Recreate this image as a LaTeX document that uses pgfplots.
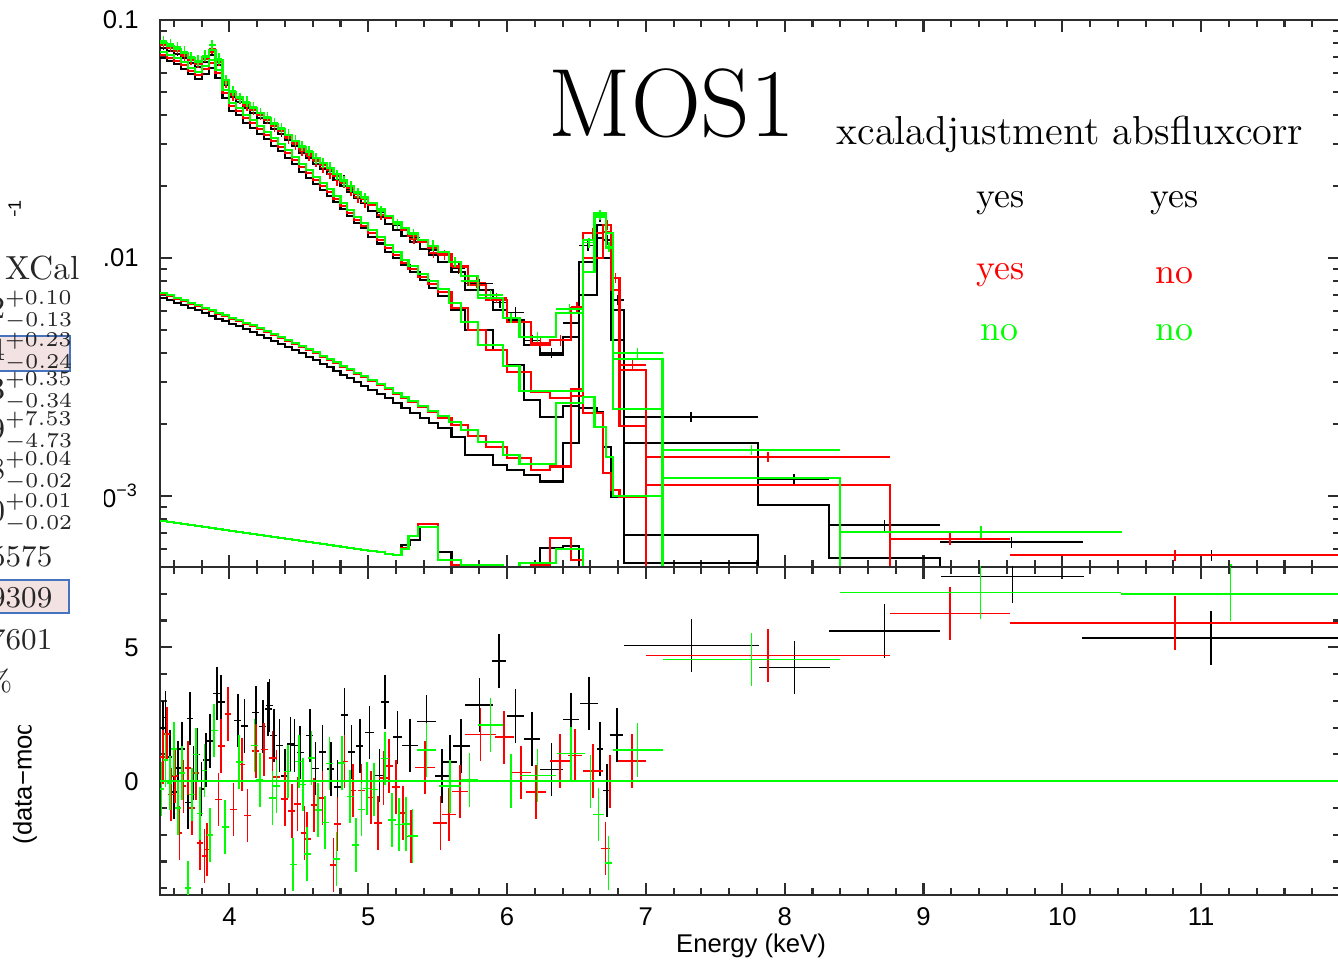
\documentclass[border=0pt]{standalone}
\usepackage{fontspec}
\usepackage{pgfplots}
\usepackage{pgfplotstable}
\pgfplotsset{compat=1.18}
\setsansfont{Liberation Sans}
\definecolor{xgreen}{RGB}{0,255,0}
\definecolor{xred}{RGB}{255,0,0}
\definecolor{framec}{RGB}{45,45,45}
\definecolor{pinkbox}{RGB}{242,226,226}
\definecolor{bluebox}{RGB}{70,115,190}

% ---------------- model tables (bin left edge, total, components) ----------------
\pgfplotstableread{
E T C2 C3 C4
3.50 0.0763 0.0692 0.00680 0.000786
3.55 0.0741 0.0673 0.00667 0.000778
3.60 0.0720 0.0653 0.00647 0.000771
3.65 0.0692 0.0623 0.00635 0.000764
3.70 0.0660 0.0593 0.00617 0.000756
3.75 0.0635 0.0565 0.00605 0.000749
3.80 0.0666 0.0593 0.00588 0.000742
3.85 0.0713 0.0629 0.00571 0.000735
3.90 0.0647 0.0571 0.00555 0.000728
3.95 0.0533 0.0470 0.00544 0.000721
4.00 0.0475 0.0415 0.00528 0.000714
4.05 0.0452 0.0399 0.00518 0.000707
4.10 0.0427 0.0369 0.00503 0.000700
4.15 0.0407 0.0352 0.00489 0.000693
4.20 0.0388 0.0332 0.00475 0.000686
4.25 0.0369 0.0316 0.00462 0.000680
4.30 0.0349 0.0296 0.00448 0.000673
4.35 0.0332 0.0282 0.00436 0.000667
4.40 0.0313 0.0263 0.00423 0.000660
4.45 0.0296 0.0248 0.00411 0.000654
4.50 0.0276 0.0230 0.00399 0.000648
4.55 0.0263 0.0217 0.00384 0.000641
4.60 0.0248 0.0205 0.00373 0.000635
4.65 0.0237 0.0193 0.00359 0.000629
4.70 0.0226 0.0182 0.00349 0.000623
4.75 0.0213 0.0172 0.00335 0.000617
4.80 0.0201 0.0161 0.00323 0.000611
4.85 0.0190 0.0150 0.00314 0.000605
4.90 0.0179 0.0140 0.00302 0.000599
4.95 0.0170 0.0134 0.00290 0.000594
5.00 0.0158 0.0123 0.00279 0.000588
5.06 0.0149 0.0115 0.00269 0.000582
5.12 0.0139 0.0106 0.00258 0.000571
5.18 0.0131 0.0100 0.00246 0.000566
5.24 0.0124 0.00935 0.00235 0.000623
5.30 0.0117 0.00874 0.00223 0.000654
5.37 0.0109 0.00809 0.00213 0.000742
5.44 0.0103 0.00748 0.00203 0.000742
5.50 0.00962 0.00693 0.00193 0.000583
5.60 0.00874 0.00605 0.00177 0.000514
5.70 0.00734 0.00499 0.00149 0.000514
5.90 0.00605 0.00411 0.00135 0.000490
6.00 0.00549 0.00356 0.00129 0.000466
6.12 0.00431 0.00253 0.00123 0.000490
6.24 0.00392 0.00215 0.00115 0.000606
6.40 0.00466 0.00239 0.00167 0.000617
6.52 0.00962 0.00700 0.00235 0.00001
6.65 0.0138 0.0121 0.00226 0.00001
6.69 0.0119 0.0100 0.00161 0.00001
6.75 0.00605 0.00453 0.000991 0.00001
6.84 0.00167 0.000686 0.000524 0.00001
7.81 0.000917 0.00001 0.00001 0.00001
8.32 0.000550 0.00001 0.00001 0.00001
9.12 0.00001 0.00001 0.00001 0.00001
}\blackmod

\pgfplotstableread{
E T C2 C3 C4
3.50 0.0785 0.0712 0.00706 0.000786
3.55 0.0762 0.0692 0.00693 0.000778
3.60 0.0740 0.0671 0.00673 0.000771
3.65 0.0712 0.0646 0.00660 0.000764
3.70 0.0678 0.0610 0.00641 0.000756
3.75 0.0653 0.0587 0.00629 0.000749
3.80 0.0685 0.0622 0.00611 0.000742
3.85 0.0733 0.0659 0.00599 0.000735
3.90 0.0665 0.0598 0.00582 0.000728
3.95 0.0549 0.0493 0.00570 0.000721
4.00 0.0488 0.0435 0.00554 0.000714
4.05 0.0466 0.0414 0.00544 0.000707
4.10 0.0439 0.0387 0.00529 0.000700
4.15 0.0418 0.0369 0.00518 0.000693
4.20 0.0399 0.0348 0.00503 0.000686
4.25 0.0380 0.0328 0.00489 0.000680
4.30 0.0359 0.0309 0.00475 0.000673
4.35 0.0342 0.0292 0.00461 0.000667
4.40 0.0322 0.0275 0.00448 0.000660
4.45 0.0304 0.0258 0.00436 0.000654
4.50 0.0287 0.0241 0.00423 0.000648
4.55 0.0273 0.0227 0.00411 0.000641
4.60 0.0258 0.0212 0.00399 0.000635
4.65 0.0246 0.0201 0.00384 0.000629
4.70 0.0234 0.0189 0.00373 0.000623
4.75 0.0221 0.0177 0.00362 0.000617
4.80 0.0209 0.0165 0.00348 0.000611
4.85 0.0197 0.0154 0.00339 0.000605
4.90 0.0186 0.0145 0.00326 0.000599
4.95 0.0177 0.0136 0.00317 0.000594
5.00 0.0167 0.0127 0.00305 0.000588
5.06 0.0158 0.0119 0.00293 0.000582
5.12 0.0147 0.0110 0.00282 0.000571
5.18 0.0139 0.0103 0.00268 0.000566
5.24 0.0131 0.00952 0.00258 0.000606
5.29 0.0124 0.00898 0.00248 0.000680
5.36 0.0117 0.00831 0.00237 0.000764
5.43 0.0110 0.00777 0.00226 0.000764
5.50 0.0104 0.00720 0.00213 0.000539
5.60 0.00926 0.00617 0.00199 0.000514
5.72 0.00771 0.00499 0.00179 0.000500
5.85 0.00667 0.00411 0.00161 0.000466
6.00 0.00539 0.00332 0.00145 0.000466
6.17 0.00431 0.00274 0.00129 0.000514
6.31 0.00453 0.00258 0.00133 0.000667
6.46 0.00617 0.00263 0.00282 0.000539
6.55 0.0127 0.0100 0.00223 0.00001
6.69 0.0138 0.0129 0.00125 0.00001
6.75 0.00825 0.00734 0.00106 0.00001
6.81 0.00339 0.00197 0.000991 0.00001
7.00 0.00111 0.00001 0.00001 0.00001
8.76 0.00001 0.00001 0.00001 0.00001
}\redmod

\pgfplotstableread{
E T C2 C3 C4
3.50 0.0801 0.0734 0.00713 0.000786
3.55 0.0778 0.0713 0.00700 0.000778
3.60 0.0755 0.0692 0.00680 0.000771
3.65 0.0727 0.0666 0.00667 0.000764
3.70 0.0692 0.0629 0.00647 0.000756
3.75 0.0666 0.0605 0.00635 0.000749
3.80 0.0699 0.0641 0.00617 0.000742
3.85 0.0748 0.0679 0.00605 0.000735
3.90 0.0679 0.0617 0.00588 0.000728
3.95 0.0560 0.0508 0.00576 0.000721
4.00 0.0498 0.0448 0.00560 0.000714
4.05 0.0475 0.0427 0.00549 0.000707
4.10 0.0448 0.0399 0.00534 0.000700
4.15 0.0427 0.0380 0.00523 0.000693
4.20 0.0407 0.0359 0.00508 0.000686
4.25 0.0388 0.0338 0.00494 0.000680
4.30 0.0366 0.0319 0.00480 0.000673
4.35 0.0349 0.0301 0.00466 0.000667
4.40 0.0329 0.0284 0.00453 0.000660
4.45 0.0310 0.0266 0.00440 0.000654
4.50 0.0293 0.0248 0.00427 0.000648
4.55 0.0279 0.0234 0.00415 0.000641
4.60 0.0263 0.0219 0.00403 0.000635
4.65 0.0251 0.0207 0.00388 0.000629
4.70 0.0239 0.0195 0.00377 0.000623
4.75 0.0226 0.0182 0.00366 0.000617
4.80 0.0213 0.0170 0.00352 0.000611
4.85 0.0201 0.0159 0.00342 0.000605
4.90 0.0190 0.0149 0.00329 0.000599
4.95 0.0181 0.0140 0.00320 0.000594
5.00 0.0170 0.0131 0.00308 0.000588
5.06 0.0161 0.0123 0.00296 0.000582
5.12 0.0150 0.0113 0.00285 0.000571
5.18 0.0142 0.0106 0.00271 0.000566
5.24 0.0134 0.00981 0.00261 0.000599
5.29 0.0127 0.00926 0.00251 0.000680
5.36 0.0119 0.00857 0.00239 0.000742
5.43 0.0112 0.00801 0.00228 0.000742
5.50 0.0106 0.00741 0.00217 0.000539
5.58 0.00962 0.00647 0.00205 0.000539
5.67 0.00841 0.00539 0.00190 0.000514
5.79 0.00679 0.00431 0.00169 0.000514
5.97 0.00560 0.00352 0.00149 0.000466
6.09 0.00466 0.00276 0.00136 0.000524
6.35 0.00588 0.00276 0.00246 0.000600
6.55 0.0119 0.00874 0.00261 0.00001
6.63 0.0155 0.0149 0.00195 0.00001
6.71 0.0127 0.0110 0.00146 0.00001
6.76 0.00377 0.00232 0.00100 0.00001
7.12 0.00119 0.00001 0.00001 0.00001
8.40 0.00001 0.00001 0.00001 0.00001
}\greenmod

% ---------------- data points (top panel) ----------------
\pgfplotstableread{
E V ex ey
3.525 0.0790 0.025 0.0040
3.575 0.0770 0.025 0.0038
3.625 0.0745 0.025 0.0037
3.675 0.0712 0.025 0.0036
3.725 0.0690 0.025 0.0035
3.775 0.0668 0.025 0.0034
3.825 0.0700 0.025 0.0035
3.875 0.0760 0.025 0.0038
3.925 0.0680 0.025 0.0034
3.975 0.0560 0.025 0.0028
4.025 0.0495 0.025 0.0025
4.075 0.0470 0.025 0.0024
4.125 0.0448 0.025 0.0022
4.175 0.0425 0.025 0.0021
4.225 0.0405 0.025 0.0020
4.275 0.0385 0.025 0.0019
4.325 0.0362 0.025 0.0018
4.375 0.0340 0.025 0.0017
4.425 0.0326 0.025 0.0016
4.475 0.0310 0.025 0.0016
4.525 0.0288 0.025 0.0014
4.575 0.0272 0.025 0.0014
4.625 0.0259 0.025 0.0013
4.675 0.0246 0.025 0.0012
4.725 0.0232 0.025 0.0012
4.775 0.0220 0.025 0.0011
4.825 0.0212 0.025 0.0011
4.875 0.0194 0.025 0.0010
4.925 0.0186 0.025 0.0009
4.975 0.0177 0.025 0.0009
5.09 0.0155 0.03 0.0008
5.21 0.0137 0.03 0.0007
5.34 0.0122 0.035 0.0006
5.47 0.0108 0.03 0.00054
5.65 0.00905 0.05 0.00045
5.80 0.00780 0.10 0.00039
5.95 0.00650 0.05 0.00033
6.06 0.00590 0.06 0.00030
6.18 0.00450 0.06 0.00023
6.32 0.00399 0.08 0.00020
6.46 0.00533 0.06 0.00027
6.585 0.0113 0.065 0.00057
6.67 0.0149 0.02 0.00075
6.72 0.0119 0.03 0.00060
6.795 0.00667 0.045 0.00033
7.325 0.00215 0.485 0.00011
8.065 0.00118 0.255 0.00006
8.72 0.000755 0.40 0.00004
9.635 0.00064 0.515 0.000035
11.075 0.000565 0.925 0.00003
}\blackdat

\pgfplotstableread{
E V ex ey
3.525 0.0805 0.025 0.0040
3.575 0.0775 0.025 0.0039
3.625 0.0755 0.025 0.0038
3.675 0.0705 0.025 0.0035
3.725 0.0680 0.025 0.0034
3.775 0.0660 0.025 0.0033
3.825 0.0700 0.025 0.0035
3.875 0.0760 0.025 0.0038
3.925 0.0672 0.025 0.0034
3.975 0.0545 0.025 0.0027
4.025 0.0482 0.025 0.0024
4.075 0.0468 0.025 0.0023
4.125 0.0436 0.025 0.0022
4.175 0.0420 0.025 0.0021
4.225 0.0401 0.025 0.0020
4.275 0.0383 0.025 0.0019
4.325 0.0358 0.025 0.0018
4.375 0.0345 0.025 0.0017
4.425 0.0318 0.025 0.0016
4.475 0.0300 0.025 0.0015
4.525 0.0281 0.025 0.0014
4.575 0.0268 0.025 0.0013
4.625 0.0254 0.025 0.0013
4.675 0.0240 0.025 0.0012
4.725 0.0226 0.025 0.0011
4.775 0.0212 0.025 0.0011
4.825 0.0206 0.025 0.0010
4.875 0.0192 0.025 0.0010
4.925 0.0180 0.025 0.0009
4.975 0.0171 0.025 0.0009
5.09 0.0152 0.03 0.0008
5.21 0.0139 0.03 0.0007
5.33 0.0120 0.035 0.0006
5.47 0.0105 0.035 0.0005
5.55 0.0103 0.05 0.0005
5.66 0.00915 0.06 0.00046
5.785 0.00790 0.065 0.0004
5.925 0.00680 0.075 0.00034
6.085 0.00535 0.085 0.00027
6.24 0.00439 0.07 0.00022
6.385 0.00450 0.075 0.00023
6.505 0.00622 0.045 0.00031
6.62 0.0127 0.07 0.00064
6.72 0.0138 0.03 0.0007
6.78 0.00824 0.03 0.00041
6.905 0.00355 0.095 0.00018
7.88 0.00146 0.88 0.00007
9.19 0.00066 0.43 0.00004
10.81 0.000565 1.19 0.00003
}\reddat

\pgfplotstableread{
E V ex ey
3.525 0.0815 0.025 0.0041
3.575 0.0792 0.025 0.0040
3.625 0.0770 0.025 0.0038
3.675 0.0738 0.025 0.0037
3.725 0.0700 0.025 0.0035
3.775 0.0676 0.025 0.0034
3.825 0.0710 0.025 0.0035
3.875 0.0785 0.025 0.0039
3.925 0.0690 0.025 0.0035
3.975 0.0560 0.025 0.0028
4.025 0.0505 0.025 0.0025
4.075 0.0470 0.025 0.0024
4.125 0.0455 0.025 0.0023
4.175 0.0432 0.025 0.0022
4.225 0.0408 0.025 0.0020
4.275 0.0392 0.025 0.0020
4.325 0.0370 0.025 0.0018
4.375 0.0352 0.025 0.0018
4.425 0.0330 0.025 0.0017
4.475 0.0312 0.025 0.0016
4.525 0.0296 0.025 0.0015
4.575 0.0282 0.025 0.0014
4.625 0.0262 0.025 0.0013
4.675 0.0250 0.025 0.0012
4.725 0.0240 0.025 0.0012
4.775 0.0224 0.025 0.0011
4.825 0.0210 0.025 0.0011
4.875 0.0200 0.025 0.0010
4.925 0.0188 0.025 0.0009
4.975 0.0179 0.025 0.0009
5.09 0.0158 0.03 0.0008
5.21 0.0139 0.03 0.0007
5.325 0.0126 0.035 0.0006
5.465 0.0113 0.035 0.0006
5.625 0.00965 0.045 0.00048
5.73 0.00800 0.06 0.0004
5.88 0.00700 0.09 0.00035
6.03 0.00560 0.06 0.00028
6.22 0.00466 0.13 0.00023
6.45 0.00610 0.10 0.0003
6.59 0.0116 0.04 0.00058
6.67 0.0152 0.04 0.00076
6.735 0.0111 0.025 0.00055
6.94 0.00399 0.18 0.0002
7.76 0.00156 0.64 0.00008
9.415 0.000706 1.015 0.00004
11.215 0.00048 0.785 0.00004
}\greendat

% ---------------- residuals (bottom panel) ----------------
\pgfplotstableread{
E R ex
3.52 1.98 0.025
3.54 2.38 0.02
3.57 0.9 0.02
3.60 -0.4 0.02
3.63 0.5 0.02
3.66 1.2 0.02
3.70 -0.8 0.02
3.715 2.34 0.02
3.74 0.3 0.02
3.77 1.0 0.02
3.80 -0.3 0.02
3.83 0.8 0.02
3.86 1.5 0.02
3.91 3.27 0.025
3.94 2.96 0.025
3.99 2.49 0.025
4.06 2.27 0.025
4.11 2.07 0.025
4.19 2.56 0.025
4.24 2.04 0.025
4.28 2.69 0.025
4.29 2.83 0.025
4.32 1.71 0.025
4.36 1.34 0.025
4.40 0.19 0.025
4.44 1.39 0.025
4.47 1.34 0.025
4.51 1.07 0.025
4.58 1.71 0.025
4.62 0.48 0.025
4.67 1.10 0.025
4.73 0.46 0.025
4.78 -0.21 0.025
4.83 2.47 0.025
4.88 1.10 0.025
4.94 1.31 0.025
5.01 1.82 0.03
5.08 0.21 0.03
5.12 2.96 0.03
5.21 1.64 0.035
5.30 1.33 0.06
5.42 2.23 0.07
5.53 0.19 0.05
5.59 0.72 0.05
5.67 1.31 0.06
5.80 2.85 0.10
5.94 4.48 0.05
6.06 2.44 0.06
6.18 1.57 0.06
6.32 0.43 0.08
6.46 2.30 0.06
6.59 2.90 0.065
6.67 1.21 0.02
6.72 -0.34 0.03
6.79 1.73 0.045
7.33 5.07 0.485
8.07 4.25 0.255
8.72 5.6 0.40
9.64 7.65 0.515
11.07 5.34 0.925
}\blackres

\pgfplotstableread{
E R ex
3.52 0.9 0.02
3.55 1.76 0.02
3.58 -0.5 0.02
3.61 0.2 0.02
3.64 -1.93 0.02
3.67 -0.19 0.02
3.70 0.5 0.02
3.73 -1.0 0.02
3.76 0.3 0.02
3.79 -2.3 0.02
3.82 -2.8 0.02
3.84 -2.55 0.02
3.89 1.9 0.025
3.92 -0.68 0.025
3.94 1.31 0.025
3.99 2.5 0.025
4.03 -1.06 0.025
4.09 0.62 0.025
4.13 -1.28 0.025
4.19 1.12 0.025
4.25 1.18 0.025
4.31 0.87 0.025
4.34 0.15 0.025
4.40 -0.66 0.025
4.45 -1.12 0.025
4.49 -0.85 0.025
4.54 -1.93 0.025
4.56 -2.15 0.025
4.61 -0.88 0.025
4.67 -0.62 0.025
4.75 -3.13 0.025
4.78 -1.59 0.025
4.83 0.73 0.025
4.89 -0.35 0.025
4.95 -0.34 0.025
5.02 -0.61 0.03
5.07 -1.56 0.03
5.11 0.12 0.03
5.15 0.56 0.03
5.20 -0.21 0.03
5.25 -1.19 0.03
5.31 -2.06 0.03
5.41 0.51 0.07
5.52 -1.56 0.05
5.58 -1.24 0.05
5.66 -0.39 0.06
5.81 1.75 0.11
5.98 1.64 0.07
6.10 0.32 0.07
6.21 -0.41 0.07
6.38 0.76 0.07
6.49 0.96 0.05
6.62 0.39 0.07
6.71 -2.52 0.03
6.74 -0.01 0.03
6.90 0.76 0.10
7.88 4.70 0.88
9.19 6.27 0.43
10.81 5.9 1.19
}\redres

\pgfplotstableread{
E R ex
3.51 -0.3 0.02
3.54 0.8 0.02
3.57 -0.06 0.02
3.60 1.2 0.02
3.63 -1.0 0.02
3.66 0.3 0.02
3.70 -3.98 0.02
3.73 -0.5 0.02
3.76 1.0 0.02
3.79 -1.2 0.02
3.82 0.4 0.02
3.86 -2.0 0.02
3.89 1.9 0.025
3.97 -1.71 0.025
4.07 0.71 0.025
4.18 1.33 0.025
4.22 0.04 0.025
4.31 -0.62 0.025
4.34 -0.19 0.025
4.42 0.37 0.025
4.46 -3.11 0.025
4.50 0.73 0.025
4.53 -0.12 0.025
4.56 -2.71 0.025
4.59 0.87 0.025
4.64 -1.08 0.025
4.69 -1.55 0.025
4.72 0.66 0.025
4.77 -2.90 0.025
4.81 0.68 0.025
4.87 -0.57 0.025
4.91 -2.39 0.025
4.95 -1.05 0.025
4.99 -0.27 0.025
5.04 -0.31 0.03
5.12 0.85 0.03
5.17 -1.45 0.03
5.22 -1.61 0.03
5.27 -1.59 0.03
5.32 -2.05 0.035
5.42 1.17 0.07
5.59 -0.19 0.08
5.73 0.04 0.06
5.88 2.09 0.09
6.03 0.0 0.06
6.22 0.22 0.13
6.46 1.03 0.10
6.60 -0.01 0.04
6.66 -1.25 0.04
6.73 -3.05 0.025
6.94 1.17 0.18
7.76 4.55 0.64
9.41 7.05 1.015
11.21 7.0 0.79
}\greenres

\pgfplotsset{
  common/.style={
    scale only axis, width=11.8cm, xmin=3.5, xmax=12,
    axis line style={framec, line width=0.7pt},
    every tick/.style={framec, line width=0.6pt},
    major tick length=1.2mm, minor tick length=0.7mm,
    xtick={4,5,6,7,8,9,10,11},
    minor xtick={3.6,3.8,4.2,4.4,4.6,4.8,5.2,5.4,5.6,5.8,6.2,6.4,6.6,6.8,7.2,7.4,7.6,7.8,8.2,8.4,8.6,8.8,9.2,9.4,9.6,9.8,10.2,10.4,10.6,10.8,11.2,11.4,11.6,11.8},
    tick label style={font=\fontsize{7.3}{8}\selectfont\sffamily},
    yticklabel style={xshift=-0.9mm},
    /pgf/number format/assume math mode=true,
  },
  model/.style={const plot, line width=0.6pt, mark=none},
  dat/.style={only marks, mark=text, text mark={},
    error bars/x dir=both, error bars/x explicit,
    error bars/y dir=both, error bars/y explicit,
    error bars/error mark=none,
    error bars/error bar style={line width=0.45pt}},
  res/.style={only marks, mark=text, text mark={},
    error bars/x dir=both, error bars/x explicit,
    error bars/y dir=both, error bars/y fixed=1,
    error bars/error mark=none,
    error bars/error bar style={line width=0.45pt}},
}

\begin{document}
\begin{tikzpicture}
\useasboundingbox (0,0) rectangle (13.38,9.61);
\clip (0,0) rectangle (13.38,9.61);

% ---------- top panel ----------
\begin{axis}[common, at={(1.6cm,3.94cm)}, anchor=south west, height=5.47cm,
  ymode=log, ymin=5.03e-4, ymax=0.1,
  xticklabels={},
  ytick={0.001,0.01,0.1},
  yticklabels={10\textsuperscript{−3},0.01,0.1},
  minor ytick={0.0006,0.0007,0.0008,0.0009,0.002,0.003,0.004,0.005,0.006,0.007,0.008,0.009,0.02,0.03,0.04,0.05,0.06,0.07,0.08,0.09},
]
\addplot[model, black] table[x=E,y=T]{\blackmod};
\addplot[model, black] table[x=E,y=C2]{\blackmod};
\addplot[model, black] table[x=E,y=C3]{\blackmod};
\addplot[model, black] table[x=E,y=C4]{\blackmod};
\addplot[black, dat] table[x=E,y=V,x error=ex,y error=ey]{\blackdat};
\addplot[model, xred] table[x=E,y=T]{\redmod};
\addplot[model, xred] table[x=E,y=C2]{\redmod};
\addplot[model, xred] table[x=E,y=C3]{\redmod};
\addplot[model, xred] table[x=E,y=C4]{\redmod};
\addplot[xred, dat] table[x=E,y=V,x error=ex,y error=ey]{\reddat};
\addplot[model, xgreen] table[x=E,y=T]{\greenmod};
\addplot[model, xgreen] table[x=E,y=C2]{\greenmod};
\addplot[model, xgreen] table[x=E,y=C3]{\greenmod};
\addplot[model, xgreen] table[x=E,y=C4]{\greenmod};
\addplot[xgreen, dat] table[x=E,y=V,x error=ex,y error=ey]{\greendat};
\end{axis}

% ---------- bottom panel ----------
\begin{axis}[common, at={(1.6cm,0.66cm)}, anchor=south west, height=3.28cm,
  ymin=-4.25, ymax=8,
  xticklabels={4,5,6,7,8,9,10,11},
  ytick={0,5}, yticklabels={0,5},
  minor ytick={-4,-3,-2,-1,1,2,3,4,6,7,8},
]
\addplot[black, res] table[x=E,y=R,x error=ex]{\blackres};
\addplot[black, line width=0.6pt] coordinates {(3.5,0) (12,0)};
\addplot[xred, res] table[x=E,y=R,x error=ex]{\redres};
\addplot[xred, line width=0.6pt] coordinates {(3.5,0) (12,0)};
\addplot[xgreen, res] table[x=E,y=R,x error=ex]{\greenres};
\addplot[xgreen, line width=0.6pt] coordinates {(3.5,0) (12,0)};
\end{axis}

% axis titles
\node[font=\fontsize{7.3}{8}\selectfont\sffamily, anchor=base] at (7.51,0.08) {Energy (keV)};
\node[font=\fontsize{7.3}{8}\selectfont\sffamily, anchor=west, rotate=90, inner sep=0] at (0.25,1.16) {(data−model)/error};
\node[font=\fontsize{7.3}{8}\selectfont\sffamily, anchor=east, rotate=90, inner sep=0] at (0.20,7.63) {normalized counts s\textsuperscript{−1} keV\textsuperscript{−1}};

% overlay of the cropped neighbouring table
\fill[white] (0,2.36) rectangle (1.04,7.45);
\draw[bluebox, fill=pinkbox, line width=0.4pt] (-0.05,5.90) rectangle (0.70,6.25);
\draw[bluebox, fill=pinkbox, line width=0.4pt] (-0.05,3.48) rectangle (0.69,3.81);
\begin{scope}[every node/.style={inner sep=0, text=black!85, font=\fontsize{9.5}{11}\selectfont}]
\node[anchor=base east] at (0.80,6.81) {XCal};
\end{scope}
\begin{scope}[every node/.style={inner sep=0, text=black!85, font=\fontsize{9}{11}\selectfont}]
\node[anchor=east] at (0.745,6.51) {$2^{+0.10}_{-0.13}$};
\node[anchor=east] at (0.745,6.09) {$4^{+0.23}_{-0.24}$};
\node[anchor=east] at (0.745,5.70) {$3^{+0.35}_{-0.34}$};
\node[anchor=east] at (0.745,5.30) {$9^{+7.53}_{-4.73}$};
\node[anchor=east] at (0.745,4.90) {$8^{+0.04}_{-0.02}$};
\node[anchor=east] at (0.745,4.48) {$0^{+0.01}_{-0.02}$};
\end{scope}
\begin{scope}[every node/.style={inner sep=0, text=black!85, font=\fontsize{8.6}{10}\selectfont}]
\node[anchor=east] at (0.53,4.04) {5575};
\node[anchor=east] at (0.53,3.63) {9309};
\node[anchor=east] at (0.53,3.21) {7601};
\node[anchor=east] at (0.13,2.80) {\%};
\end{scope}

% legend text
\node[anchor=base west, inner sep=0, font=\fontsize{27.6}{32}\selectfont] at (5.48,8.24) {MOS1};
\node[anchor=base west, inner sep=0, font=\fontsize{11.5}{13}\selectfont] at (8.36,8.16) {xcaladjustment absfluxcorr};
\begin{scope}[every node/.style={anchor=base west, inner sep=0, font=\fontsize{10.2}{12}\selectfont}]
\node at (9.76,7.53) {yes};
\node at (11.50,7.53) {yes};
\node[text=xred] at (9.76,6.81) {yes};
\node[text=xred] at (11.55,6.77) {no};
\node[text=xgreen] at (9.80,6.20) {no};
\node[text=xgreen] at (11.55,6.20) {no};
\end{scope}
\end{tikzpicture}
\end{document}
